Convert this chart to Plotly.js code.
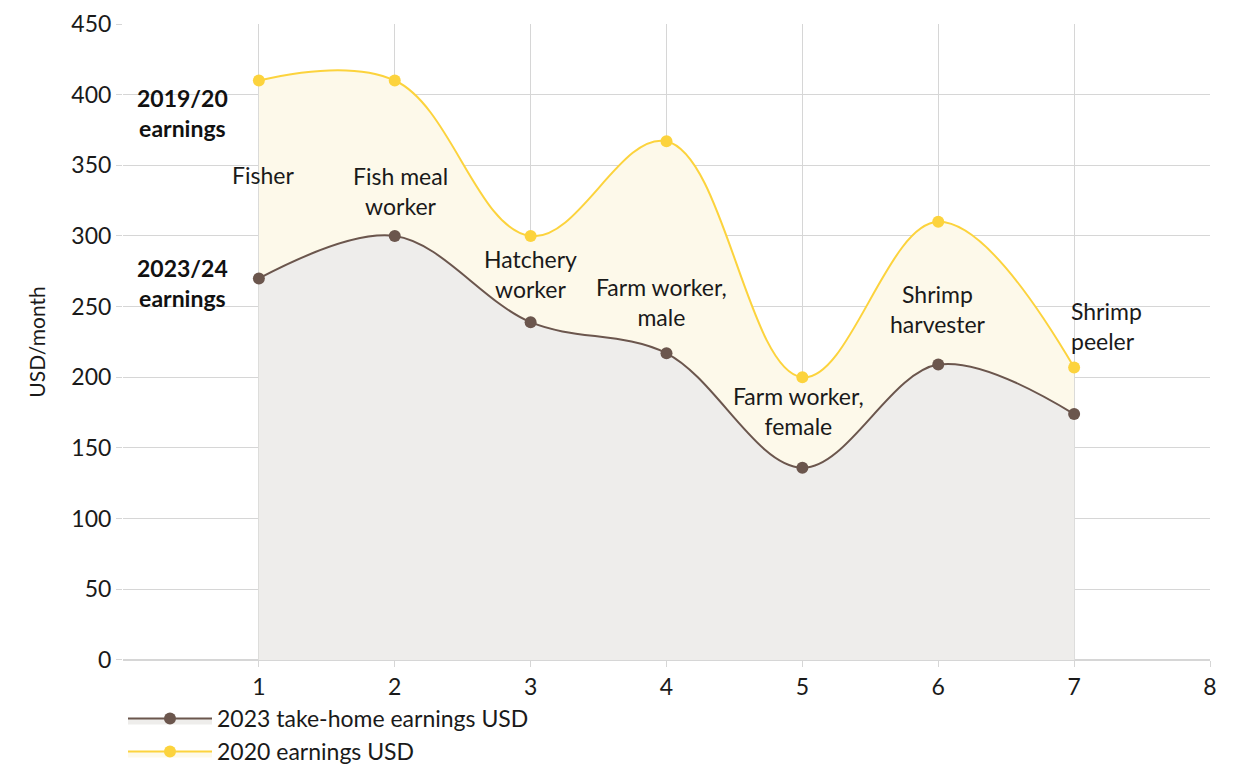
<!DOCTYPE html>
<html>
<head>
<meta charset="utf-8">
<script src="https://cdn.plot.ly/plotly-3.0.1.min.js"></script>
<style>html,body{margin:0;padding:0;background:#fff;}#chart{width:1241px;height:776px;}</style>
</head>
<body>
<div id="chart"></div>
<script>
var xs = [1, 2, 3, 4, 5, 6, 7];
var earnings2023 = [270, 300, 239, 217, 136, 209, 174];
var earnings2020 = [410, 410, 300, 367, 200, 310, 207];
var seriesNames = ["2023 take-home earnings USD", "2020 earnings USD"];
var xTickVals = [1, 2, 3, 4, 5, 6, 7, 8];

var jobLabels = ["Fisher", "Fish meal<br>worker", "Hatchery<br>worker", "Farm worker,<br>male", "Farm worker,<br>female", "Shrimp<br>harvester", "Shrimp<br>peeler"];
var jobLabelX = [1.03, 2.04, 3.0, 3.96, 4.97, 6.0, 6.96];
var jobLabelY = [343, 332, 273, 253, 176, 248, 236];

var seriesLabels = ["<b>2019/20<br>earnings</b>", "<b>2023/24<br>earnings</b>"];
var seriesLabelX = [0.44, 0.44];
var seriesLabelY = [387, 267];

var FONT = "Lato, 'Open Sans', sans-serif";
var TXT = "#1a1a1a";
var FS = 23;

var traces = [
  {
    x: xs, y: earnings2020, name: seriesNames[1], type: "scatter", mode: "lines+markers",
    line: {color: "#fcd33d", width: 2, shape: "spline", smoothing: 1.1},
    marker: {color: "#fcd33d", size: 12},
    fill: "tozeroy", fillcolor: "#fdf9ea", legendrank: 2
  },
  {
    x: xs, y: earnings2023, name: seriesNames[0], type: "scatter", mode: "lines+markers",
    line: {color: "#6b564d", width: 2, shape: "spline", smoothing: 1.0},
    marker: {color: "#6b564d", size: 12},
    fill: "tozeroy", fillcolor: "#eeedeb", legendrank: 1
  }
];

var annotations = [];
for (var i = 0; i < jobLabels.length; i++) {
  annotations.push({
    x: jobLabelX[i], y: jobLabelY[i], xref: "x", yref: "y",
    text: jobLabels[i], showarrow: false,
    xanchor: i === 6 ? "left" : "center", align: i === 6 ? "left" : "center",
    font: {family: FONT, size: FS, color: TXT}
  });
}
for (var j = 0; j < seriesLabels.length; j++) {
  annotations.push({
    x: seriesLabelX[j], y: seriesLabelY[j], xref: "x", yref: "y",
    text: seriesLabels[j], showarrow: false, xanchor: "center", align: "center",
    font: {family: FONT, size: FS, color: "#111"}
  });
}

var layout = {
  width: 1241, height: 776,
  margin: {l: 123, r: 31, t: 24, b: 0},
  paper_bgcolor: "#fff", plot_bgcolor: "#fff",
  font: {family: FONT, size: FS, color: TXT},
  showlegend: true,
  legend: {x: 0.0, xanchor: "left", y: 0.105, yanchor: "top",
           orientation: "v", bgcolor: "rgba(0,0,0,0)",
           font: {family: FONT, size: FS, color: TXT}, tracegroupgap: 0, itemwidth: 84},
  xaxis: {
    range: [0, 8], tickmode: "array", tickvals: xTickVals,
    showgrid: true, gridcolor: "#d6d6d6", gridwidth: 1,
    zeroline: false, showline: false,
    ticks: "outside", ticklen: 6, tickcolor: "#d6d6d6",
    tickfont: {family: FONT, size: FS, color: TXT}
  },
  yaxis: {
    domain: [0.1543, 1],
    range: [0, 450], dtick: 50, tick0: 0,
    showgrid: true, gridcolor: "#d6d6d6", gridwidth: 1,
    zeroline: true, zerolinecolor: "#d6d6d6", zerolinewidth: 2, showline: false,
    ticks: "outside", ticklen: 6, tickcolor: "#d6d6d6",
    tickfont: {family: FONT, size: FS, color: TXT},
    title: {text: "USD/month", font: {family: FONT, size: 21, color: TXT}, standoff: 20}
  },
  annotations: annotations
};

Plotly.newPlot("chart", traces, layout, {displayModeBar: false, staticPlot: true});
</script>
</body>
</html>
